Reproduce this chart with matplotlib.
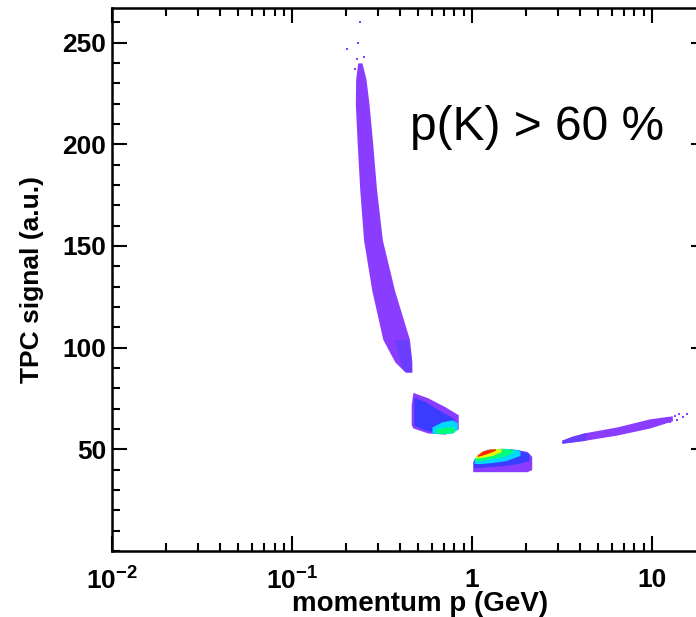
import numpy as np
import matplotlib
matplotlib.use("Agg")
import matplotlib.pyplot as plt
from matplotlib.ticker import LogLocator, MultipleLocator, FixedLocator, FixedFormatter

plt.rcParams['font.family'] = ['Liberation Sans', 'DejaVu Sans']
plt.rcParams['mathtext.fontset'] = 'custom'
plt.rcParams['mathtext.rm'] = 'Liberation Sans:bold'
plt.rcParams['mathtext.it'] = 'Liberation Sans:bold'
plt.rcParams['mathtext.bf'] = 'Liberation Sans:bold'

# palette (low -> high density)
c_purple = '#8b3dff'
c_mid = '#6a3eff'
c_blue = '#3a3cff'
c_cyan = '#00d8ff'
c_green = '#00ff78'
c_yellow = '#e6ff00'
c_red = '#ff2a00'

# band 1: low momentum kaons (signal vs p-range)
b1_sig = [240, 232, 220, 202, 178, 153, 128, 104, 93, 88]
b1_plo = [0.232, 0.226, 0.225, 0.230, 0.238, 0.250, 0.278, 0.320, 0.373, 0.425]
b1_phi = [0.245, 0.258, 0.268, 0.280, 0.295, 0.318, 0.372, 0.450, 0.464, 0.464]
b1_tip_sig = [104, 96, 90, 88]
b1_tip_plo = [0.37, 0.39, 0.41, 0.43]
b1_tip_phi = [0.44, 0.458, 0.462, 0.462]
b1_sp_p = [0.239, 0.232, 0.203, 0.250, 0.229, 0.224, 0.232, 0.247, 0.262, 0.265]
b1_sp_sig = [260, 250, 247, 243, 242, 237, 235, 231, 223, 220]

# band 2
b2_p = [0.46, 0.47, 0.57, 0.71, 0.84]
b2_hi = [72, 78, 75.3, 70.9, 67]
b2_lo = [62, 60.5, 58, 57.5, 60]
b2_blue_p = [0.475, 0.55, 0.65, 0.80]
b2_blue_hi = [75.5, 73.5, 69.5, 65.0]
b2_blue_lo = [62, 59.5, 58.0, 59.0]
b2_cyan_p = [0.60, 0.68, 0.78, 0.83]
b2_cyan_hi = [61.0, 63.5, 64.5, 63.0]
b2_cyan_lo = [58.0, 57.6, 58.0, 60.0]
b2_green_p = [0.63, 0.70, 0.80]
b2_green_hi = [59.8, 61.0, 61.0]
b2_green_lo = [58.0, 57.8, 58.5]

# band 3
b3_p = [1.01, 1.08, 1.21, 1.43, 1.73, 2.02, 2.15]
b3_hi = [44, 47.2, 50, 50.5, 50, 49, 46.5]
b3_lo = [39, 39, 39, 39, 39, 39, 40]
b3_layers = [
    (c_blue,   [1.02, 1.10, 1.25, 1.50, 1.80, 2.08], [44.8, 47.8, 50.0, 50.5, 49.8, 48.0], [41.0, 41.0, 41.5, 42.0, 43.0, 44.5]),
    (c_cyan,   [1.03, 1.12, 1.30, 1.55, 1.85], [45.5, 48.5, 50.2, 50.4, 49.6], [43.0, 43.0, 43.5, 44.5, 47.0]),
    (c_green,  [1.04, 1.13, 1.30, 1.50, 1.70], [46.0, 48.8, 50.2, 50.4, 50.0], [44.2, 44.5, 45.5, 46.5, 48.8]),
    (c_yellow, [1.05, 1.14, 1.30, 1.45], [46.6, 49.1, 50.2, 50.4], [45.6, 46.0, 47.0, 48.8]),
    (c_red,    [1.07, 1.15, 1.25, 1.35], [47.2, 49.3, 50.0, 50.3], [46.4, 47.2, 48.3, 49.5]),
]

# band 4
b4_p = [3.16, 4.14, 6.39, 9.75, 13.0]
b4_hi = [54.5, 58, 61, 65, 66.5]
b4_lo = [53, 54.3, 57, 60.5, 64]
b4_tip_p = [3.16, 3.6, 4.3]
b4_tip_hi = [54.5, 56.5, 58.2]
b4_tip_lo = [53, 53.6, 54.5]
b4_sp_p = [13.5, 14.2, 14.9, 15.6, 13.8, 12.6]
b4_sp_sig = [66.5, 67.5, 66.0, 67.5, 64.5, 63.2]

xtick_vals = [0.01, 0.1, 1, 10]
xtick_labels = ['$10^{-2}$', '$10^{-1}$', '1', '10']
ytick_vals = [50, 100, 150, 200, 250]

fig = plt.figure(figsize=(6.96, 6.17), dpi=100)
ax = fig.add_axes([112 / 696, 66 / 617, 594 / 696, 543 / 617])

ax.fill_betweenx(b1_sig, b1_plo, b1_phi, color=c_purple, lw=0)
ax.fill_betweenx(b1_tip_sig, b1_tip_plo, b1_tip_phi, color=c_mid, lw=0)
ax.scatter(b1_sp_p, b1_sp_sig, s=4, marker='s', color=c_purple, lw=0)

ax.fill_between(b2_p, b2_lo, b2_hi, color=c_purple, lw=0)
ax.fill_between(b2_blue_p, b2_blue_lo, b2_blue_hi, color=c_blue, lw=0)
ax.fill_between(b2_cyan_p, b2_cyan_lo, b2_cyan_hi, color=c_cyan, lw=0)
ax.fill_between(b2_green_p, b2_green_lo, b2_green_hi, color=c_green, lw=0)

ax.fill_between(b3_p, b3_lo, b3_hi, color=c_purple, lw=0)
for col, pp, hi, lo in b3_layers:
    ax.fill_between(pp, lo, hi, color=col, lw=0)

ax.fill_between(b4_p, b4_lo, b4_hi, color=c_purple, lw=0)
ax.fill_between(b4_tip_p, b4_tip_lo, b4_tip_hi, color=c_mid, lw=0)
ax.scatter(b4_sp_p, b4_sp_sig, s=4, marker='s', color=c_purple, lw=0)

ax.set_xscale('log')
ax.set_xlim(0.01, 20)
ax.set_ylim(0, 267)

ax.xaxis.set_major_locator(FixedLocator(xtick_vals))
ax.xaxis.set_major_formatter(FixedFormatter(xtick_labels))
ax.xaxis.set_minor_locator(LogLocator(base=10, subs=np.arange(2, 10)))
ax.yaxis.set_major_locator(FixedLocator(ytick_vals))
ax.yaxis.set_minor_locator(MultipleLocator(10))

ax.tick_params(which='both', direction='in', top=True, right=True, width=1.5)
ax.tick_params(which='major', length=11)
ax.tick_params(which='minor', length=5.5)
ax.tick_params(axis='y', labelsize=19, pad=4)
ax.tick_params(axis='x', labelsize=19, pad=12)
for lab in ax.get_yticklabels() + ax.get_xticklabels():
    lab.set_fontweight('bold')
for sp in ax.spines.values():
    sp.set_linewidth(1.8)

ax.set_xlabel('momentum p (GeV)', fontsize=20, fontweight='bold')
ax.xaxis.set_label_coords(0.518, -0.074)
ax.set_ylabel('TPC signal (a.u.)', fontsize=19, fontweight='bold')
ax.yaxis.set_label_coords(-0.115, 0.5)

ax.text(0.453, 208, 'p(K) > 60 %', fontsize=34.5, ha='left', va='center')

fig.savefig('out.png', dpi=100)
